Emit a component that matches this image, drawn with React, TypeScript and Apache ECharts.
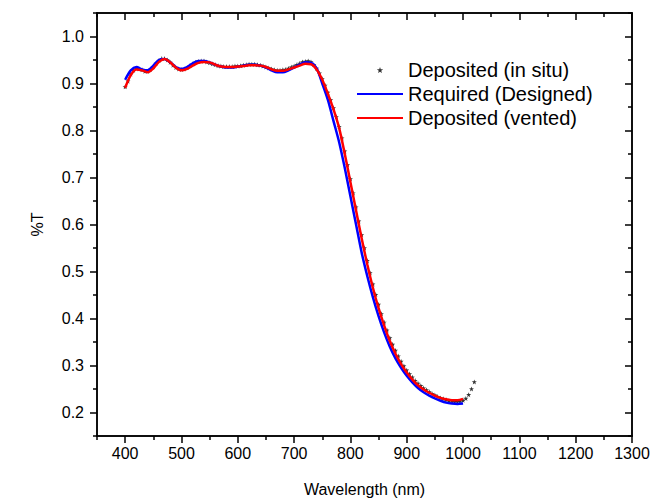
import React, { useEffect, useRef } from "react";
import * as echarts from "echarts";

const FONT = 'Arial, "Liberation Sans", Helvetica, sans-serif';

const xMajorTicks = [400, 500, 600, 700, 800, 900, 1000, 1100, 1200, 1300];
const xMinorTicks = [350, 450, 550, 650, 750, 850, 950, 1050, 1150, 1250];
const yMajorTicks = [0.2, 0.3, 0.4, 0.5, 0.6, 0.7, 0.8, 0.9, 1.0];
const yMinorTicks = [0.15, 0.25, 0.35, 0.45, 0.55, 0.65, 0.75, 0.85, 0.95, 1.05];

const lineWavelengths = [
  400, 410, 420, 430, 440, 450, 460, 470, 480, 490,
  500, 510, 520, 530, 540, 550, 560, 570, 580, 590,
  600, 610, 620, 630, 640, 650, 660, 670, 680, 690,
  700, 710, 720, 730, 740, 750, 760, 770, 780, 790,
  800, 810, 820, 830, 840, 850, 860, 870, 880, 890,
  900, 910, 920, 930, 940, 950, 960, 970, 980, 990, 1000,
];

const requiredDesigned = [
  0.908, 0.928, 0.935, 0.930, 0.928, 0.938, 0.950, 0.952, 0.945, 0.935,
  0.931, 0.935, 0.943, 0.948, 0.948, 0.945, 0.940, 0.936, 0.934, 0.934,
  0.936, 0.938, 0.940, 0.940, 0.938, 0.934, 0.928, 0.924, 0.924, 0.928,
  0.934, 0.940, 0.945, 0.944, 0.932, 0.900, 0.865, 0.820, 0.775, 0.720,
  0.660, 0.600, 0.540, 0.490, 0.445, 0.405, 0.370, 0.340, 0.315, 0.295,
  0.278, 0.264, 0.252, 0.243, 0.236, 0.230, 0.225, 0.221, 0.219, 0.218, 0.219,
];

const depositedVented = [
  0.891, 0.918, 0.930, 0.928, 0.924, 0.932, 0.946, 0.952, 0.945, 0.934,
  0.928, 0.931, 0.938, 0.944, 0.946, 0.945, 0.940, 0.936, 0.935, 0.935,
  0.936, 0.937, 0.939, 0.939, 0.938, 0.935, 0.930, 0.927, 0.927, 0.930,
  0.934, 0.938, 0.942, 0.941, 0.930, 0.908, 0.878, 0.845, 0.805, 0.750,
  0.690, 0.630, 0.570, 0.515, 0.465, 0.422, 0.385, 0.352, 0.325, 0.303,
  0.285, 0.270, 0.258, 0.249, 0.242, 0.236, 0.231, 0.228, 0.226, 0.226, 0.229,
];

const inSituWavelengths = [
  400, 405, 410, 415, 420, 425, 430, 435, 440, 445,
  450, 455, 460, 465, 470, 475, 480, 485, 490, 495,
  500, 505, 510, 515, 520, 525, 530, 535, 540, 545,
  550, 555, 560, 565, 570, 575, 580, 585, 590, 595,
  600, 605, 610, 615, 620, 625, 630, 635, 640, 645,
  650, 655, 660, 665, 670, 675, 680, 685, 690, 695,
  700, 705, 710, 715, 720, 725, 730, 735, 740, 745,
  750, 755, 760, 765, 770, 775, 780, 785, 790, 795,
  800, 805, 810, 815, 820, 825, 830, 835, 840, 845,
  850, 855, 860, 865, 870, 875, 880, 885, 890, 895,
  900, 905, 910, 915, 920, 925, 930, 935, 940, 945,
  950, 955, 960, 965, 970, 975, 980, 985, 990, 995,
  1000, 1005, 1010, 1015, 1020,
];

const depositedInSitu = [
  0.893, 0.905, 0.920, 0.928, 0.932, 0.931, 0.929, 0.926, 0.926, 0.930,
  0.936, 0.943, 0.949, 0.953, 0.953, 0.950, 0.945, 0.939, 0.934, 0.931,
  0.930, 0.931, 0.934, 0.938, 0.942, 0.945, 0.947, 0.948, 0.948, 0.946,
  0.944, 0.942, 0.940, 0.938, 0.937, 0.936, 0.936, 0.936, 0.936, 0.937,
  0.937, 0.938, 0.939, 0.940, 0.941, 0.941, 0.941, 0.940, 0.939, 0.937,
  0.935, 0.933, 0.931, 0.929, 0.928, 0.928, 0.929, 0.930, 0.932, 0.935,
  0.937, 0.940, 0.943, 0.946, 0.947, 0.948, 0.946, 0.940, 0.932, 0.922,
  0.910, 0.896, 0.881, 0.865, 0.848, 0.829, 0.808, 0.784, 0.756, 0.727,
  0.697, 0.667, 0.637, 0.607, 0.578, 0.550, 0.523, 0.497, 0.473, 0.451,
  0.430, 0.410, 0.392, 0.375, 0.359, 0.345, 0.332, 0.320, 0.309, 0.299,
  0.290, 0.282, 0.275, 0.268, 0.262, 0.257, 0.252, 0.248, 0.244, 0.240,
  0.237, 0.234, 0.231, 0.229, 0.227, 0.225, 0.224, 0.223, 0.223, 0.224,
  0.226, 0.230, 0.238, 0.250, 0.265,
];

const STAR =
  "path://M0,-10 L2.35,-3.24 L9.51,-3.09 L3.8,1.24 L5.88,8.09 L0,4 L-5.88,8.09 L-3.8,1.24 L-9.51,-3.09 L-2.35,-3.24 Z";
const LINE_ICON = "path://M0,0 L46,0 L46,2.2 L0,2.2 Z";

const zip = (xs: number[], ys: number[]) => xs.map((x, i) => [x, ys[i]]);

const axisLineStyle = { color: "#000", width: 1.5 };

function xAxisDef(position: "bottom" | "top", ticks: number[], len: number, inside: boolean, labels: boolean) {
  return {
    type: "value",
    min: 350,
    max: 1300,
    position,
    axisLine: { show: true, onZero: false, lineStyle: axisLineStyle },
    axisTick: { show: true, customValues: ticks, length: len, inside, lineStyle: axisLineStyle },
    axisLabel: labels
      ? {
          show: true,
          customValues: ticks,
          fontSize: 16,
          color: "#000",
          fontFamily: FONT,
          margin: 9,
          formatter: (v: number) => String(Math.round(v)),
        }
      : { show: false },
    splitLine: { show: false },
    ...(labels
      ? {
          name: "Wavelength (nm)",
          nameLocation: "middle",
          nameGap: 45,
          nameTextStyle: { fontSize: 16, color: "#000", fontFamily: FONT },
        }
      : {}),
  };
}

function yAxisDef(position: "left" | "right", ticks: number[], len: number, inside: boolean, labels: boolean) {
  return {
    type: "value",
    min: 0.15,
    max: 1.05,
    position,
    axisLine: { show: true, onZero: false, lineStyle: axisLineStyle },
    axisTick: { show: true, customValues: ticks, length: len, inside, lineStyle: axisLineStyle },
    axisLabel: labels
      ? {
          show: true,
          customValues: ticks,
          fontSize: 16,
          color: "#000",
          fontFamily: FONT,
          margin: 13,
          formatter: (v: number) => v.toFixed(1),
        }
      : { show: false },
    splitLine: { show: false },
    ...(labels
      ? {
          name: "%T",
          nameLocation: "middle",
          nameGap: 52,
          nameTextStyle: { fontSize: 16, color: "#000", fontFamily: FONT },
        }
      : {}),
  };
}

export default function App() {
  const ref = useRef<HTMLDivElement>(null);
  useEffect(() => {
    if (!ref.current) return;
    const chart = echarts.init(ref.current, undefined, { renderer: "svg" });
    chart.setOption({
      animation: false,
      backgroundColor: "#fff",
      grid: { left: 97, right: 22, top: 13, bottom: 64, containLabel: false },
      legend: {
        orient: "vertical",
        left: 357,
        top: 60,
        padding: 0,
        itemWidth: 46,
        itemHeight: 6,
        itemGap: 4,
        textStyle: { fontSize: 20, lineHeight: 20, color: "#000", fontFamily: FONT },
        data: [
          { name: "Deposited (in situ)", icon: STAR },
          { name: "Required (Designed)", icon: LINE_ICON },
          { name: "Deposited (vented)", icon: LINE_ICON },
        ],
      },
      xAxis: [
        xAxisDef("bottom", xMajorTicks, 7, false, true),
        xAxisDef("bottom", xMinorTicks, 4, false, false),
        xAxisDef("top", xMajorTicks, 7, true, false),
        xAxisDef("top", xMinorTicks, 4, true, false),
      ],
      yAxis: [
        yAxisDef("left", yMajorTicks, 7, false, true),
        yAxisDef("left", yMinorTicks, 4, false, false),
        yAxisDef("right", yMajorTicks, 7, true, false),
        yAxisDef("right", yMinorTicks, 4, true, false),
      ],
      series: [
        {
          name: "Deposited (in situ)",
          type: "scatter",
          xAxisIndex: 0,
          yAxisIndex: 0,
          data: zip(inSituWavelengths, depositedInSitu),
          symbol: STAR,
          symbolSize: 5,
          itemStyle: { color: "#000" },
          z: 1,
        },
        {
          name: "Required (Designed)",
          type: "line",
          xAxisIndex: 0,
          yAxisIndex: 0,
          data: zip(lineWavelengths, requiredDesigned),
          showSymbol: false,
          symbol: "none",
          smooth: 0.3,
          lineStyle: { color: "#0000ff", width: 2.5 },
          itemStyle: { color: "#0000ff" },
          z: 2,
        },
        {
          name: "Deposited (vented)",
          type: "line",
          xAxisIndex: 0,
          yAxisIndex: 0,
          data: zip(lineWavelengths, depositedVented),
          showSymbol: false,
          symbol: "none",
          smooth: 0.3,
          lineStyle: { color: "#ff0000", width: 2.5 },
          itemStyle: { color: "#ff0000" },
          z: 3,
        },
      ],
    });
    return () => chart.dispose();
  }, []);
  return (
    <div
      ref={ref}
      style={{ position: "absolute", left: 0, top: 0, width: 654, height: 502 }}
    />
  );
}
